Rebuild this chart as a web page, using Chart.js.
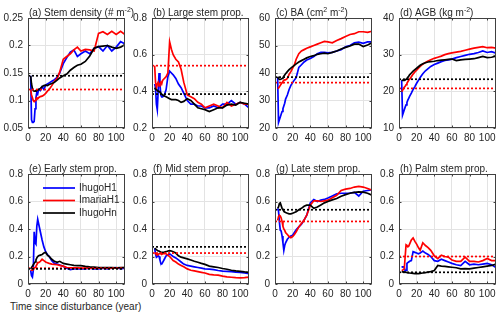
<!DOCTYPE html>
<html>
<head>
<meta charset="utf-8">
<script src="https://cdn.jsdelivr.net/npm/chart.js@4.4.0/dist/chart.umd.min.js"></script>
<style>
  body { margin: 0; background: #fff; width: 500px; height: 318px; position: relative; overflow: hidden;
         font-family: 'Liberation Sans', Arial, sans-serif; }
  canvas.panel { position: absolute; }
  #xtitle { position: absolute; left: 10px; top: 301px; font-size: 10px; line-height: 12px; color: #262626; white-space: nowrap; }
</style>
</head>
<body>
<div id="xtitle">Time since disturbance (year)</div>
<script>
// time axis (years since disturbance), shared by every series
const years = [3,4,5,6,7,8,9,10,11,12,14,16,18,20,22,24,27,30,33,36,40,44,48,52,56,60,65,70,75,80,85,90,95,100,105,110];
const xRange = [0, 110];
const xTicks = [0, 20, 40, 60, 80, 100];
const seriesNames = ['IhugoH1', 'ImariaH1', 'IhugoHn'];

// (a) stem density
const densityH1 = [0.145,0.065,0.06,0.06,0.062,0.085,0.105,0.115,0.112,0.12,0.118,0.125,0.12,0.128,0.13,0.132,0.135,0.138,0.142,0.15,0.167,0.178,0.188,0.192,0.18,0.185,0.19,0.185,0.195,0.198,0.19,0.2,0.19,0.197,0.207,0.203];
const densityMaria = [0.12,0.11,0.105,0.1,0.098,0.1,0.103,0.105,0.103,0.105,0.107,0.108,0.11,0.113,0.117,0.12,0.127,0.135,0.14,0.152,0.175,0.18,0.185,0.192,0.197,0.19,0.193,0.192,0.19,0.222,0.225,0.22,0.226,0.22,0.226,0.22];
const densityHn = [0.145,0.13,0.122,0.118,0.117,0.117,0.118,0.118,0.119,0.12,0.122,0.125,0.127,0.128,0.127,0.129,0.131,0.133,0.137,0.141,0.145,0.148,0.155,0.16,0.164,0.166,0.171,0.181,0.195,0.198,0.199,0.2,0.197,0.195,0.197,0.202];
// (b) large stem proportion
const largeH1 = [0.44,0.42,0.33,0.3,0.4,0.5,0.44,0.38,0.37,0.37,0.38,0.41,0.48,0.51,0.5,0.49,0.47,0.44,0.42,0.39,0.35,0.33,0.33,0.32,0.32,0.31,0.31,0.32,0.31,0.33,0.33,0.35,0.33,0.34,0.33,0.31];
const largeMaria = [0.54,0.45,0.42,0.44,0.45,0.43,0.44,0.45,0.44,0.46,0.47,0.48,0.5,0.67,0.63,0.6,0.575,0.56,0.52,0.45,0.38,0.37,0.36,0.34,0.33,0.31,0.32,0.33,0.32,0.31,0.34,0.32,0.33,0.34,0.33,0.33];
const largeHn = [0.42,0.41,0.41,0.405,0.4,0.4,0.395,0.39,0.385,0.38,0.375,0.37,0.365,0.36,0.355,0.355,0.355,0.35,0.34,0.345,0.36,0.35,0.33,0.31,0.305,0.3,0.29,0.3,0.31,0.31,0.325,0.33,0.325,0.34,0.335,0.33];
// (c) basal area
const baH1 = [38.5,22,23,24,25,26,27,28,29,30.5,32,34,35.5,36.5,37.5,38.3,42,43,44,44.7,45.3,46,47,47.5,47.5,47.3,47.5,48,48.5,49.5,50,51,51.2,50.8,51.3,51.3];
const baMaria = [34.4,34.5,35,35.5,36,36.5,37,37.3,37.5,37.5,38,39.5,40.5,41.8,43,45,47,48,48.5,49,49.5,50,50.5,51,51.5,51.3,51,51.8,52.5,53.3,54,54.3,55,55,54.8,55.2];
const baHn = [38.7,38,37.7,37.7,37.8,38,38.3,38.8,39.3,39.7,40.5,41.2,41.8,42.3,42.8,43.3,44,44.5,45,45.5,46,46.3,46.8,47,47.2,47,47.5,48,48.7,49.3,49.8,50.5,50.5,49.6,50.2,51];
// (d) above-ground biomass
const agbH1 = [23,13.5,14.2,15,15.7,16.3,17,17.6,18.1,18.6,19.5,20.5,21.3,22.2,23,23.8,24.8,25.6,26.2,26.8,27.3,27.7,28.1,28.4,28.6,28.8,29.2,29.5,29.8,30.1,30.3,30.6,31,30.6,30.8,30.4];
const agbMaria = [19.9,20.3,20.7,21.1,21.4,21.8,22.2,22.6,23,23.3,24,24.7,25.3,25.8,26.3,26.8,27.4,27.9,28.3,28.6,29,29.3,29.6,30,30.3,30.5,30.7,30.9,31.2,31.5,31.8,32,32.2,31.9,32,31.8];
const agbHn = [23.1,23,23,23,23.1,23.3,23.5,23.8,24.1,24.5,25,25.5,25.9,26.3,26.7,27.1,27.5,27.8,28,28.1,28.2,28.4,28.5,28.6,28.7,28.8,28.4,28.6,28.7,28.8,28.9,29.2,29.5,29.2,29.3,29.6];
// (e) early stem proportion
const earlyH1 = [0.1,0.06,0.05,0.1,0.38,0.3,0.29,0.42,0.47,0.44,0.38,0.32,0.27,0.235,0.215,0.2,0.17,0.15,0.145,0.138,0.128,0.115,0.105,0.11,0.112,0.11,0.11,0.115,0.11,0.11,0.115,0.11,0.115,0.12,0.11,0.115];
const earlyMaria = [0.105,0.1,0.1,0.105,0.115,0.12,0.13,0.14,0.155,0.155,0.165,0.18,0.17,0.16,0.155,0.15,0.145,0.143,0.14,0.135,0.13,0.12,0.118,0.118,0.117,0.116,0.116,0.115,0.115,0.115,0.118,0.115,0.117,0.115,0.118,0.12];
const earlyHn = [0.11,0.12,0.13,0.14,0.15,0.16,0.175,0.19,0.2,0.205,0.21,0.215,0.225,0.23,0.21,0.2,0.18,0.165,0.158,0.165,0.15,0.145,0.14,0.135,0.134,0.133,0.128,0.125,0.123,0.12,0.12,0.12,0.12,0.118,0.12,0.12];
// (f) mid stem proportion
const midH1 = [0.26,0.22,0.195,0.2,0.205,0.2,0.175,0.15,0.145,0.155,0.18,0.205,0.21,0.22,0.21,0.2,0.19,0.175,0.16,0.145,0.135,0.13,0.125,0.12,0.115,0.11,0.108,0.104,0.098,0.094,0.092,0.09,0.087,0.085,0.08,0.075];
const midMaria = [0.23,0.22,0.215,0.21,0.215,0.22,0.22,0.22,0.215,0.22,0.22,0.22,0.21,0.2,0.185,0.17,0.16,0.145,0.135,0.125,0.11,0.1,0.095,0.09,0.085,0.08,0.07,0.066,0.064,0.057,0.052,0.049,0.046,0.044,0.046,0.05];
const midHn = [0.26,0.255,0.25,0.245,0.24,0.24,0.235,0.232,0.23,0.23,0.232,0.235,0.24,0.243,0.24,0.235,0.225,0.205,0.195,0.19,0.183,0.175,0.165,0.158,0.15,0.143,0.13,0.125,0.12,0.113,0.107,0.1,0.095,0.092,0.088,0.085];
// (g) late stem proportion
const lateH1 = [0.55,0.53,0.45,0.39,0.385,0.35,0.3,0.245,0.28,0.3,0.325,0.34,0.35,0.355,0.375,0.395,0.415,0.435,0.465,0.5,0.59,0.615,0.6,0.61,0.615,0.625,0.64,0.655,0.66,0.66,0.662,0.667,0.64,0.675,0.68,0.685];
const lateMaria = [0.463,0.49,0.5,0.495,0.48,0.455,0.42,0.4,0.39,0.375,0.36,0.345,0.337,0.345,0.36,0.38,0.415,0.44,0.465,0.5,0.573,0.605,0.605,0.6,0.605,0.61,0.628,0.645,0.68,0.69,0.695,0.705,0.71,0.705,0.695,0.683];
const lateHn = [0.55,0.56,0.585,0.59,0.57,0.55,0.54,0.53,0.524,0.52,0.515,0.51,0.51,0.515,0.52,0.525,0.54,0.55,0.565,0.573,0.573,0.55,0.56,0.575,0.59,0.6,0.612,0.622,0.638,0.65,0.66,0.666,0.67,0.668,0.66,0.645];
// (h) palm stem proportion
const palmH1 = [0.12,0.125,0.125,0.12,0.095,0.1,0.15,0.155,0.16,0.165,0.17,0.235,0.23,0.225,0.22,0.225,0.24,0.225,0.215,0.2,0.17,0.165,0.18,0.17,0.16,0.15,0.14,0.134,0.165,0.14,0.145,0.14,0.145,0.15,0.14,0.12];
const palmMaria = [0.1,0.1,0.105,0.11,0.2,0.285,0.28,0.27,0.275,0.29,0.32,0.335,0.31,0.29,0.265,0.245,0.3,0.28,0.265,0.245,0.205,0.185,0.21,0.2,0.195,0.175,0.165,0.165,0.195,0.165,0.165,0.16,0.17,0.185,0.17,0.17];
const palmHn = [0.09,0.088,0.088,0.087,0.086,0.085,0.083,0.082,0.08,0.08,0.078,0.077,0.075,0.075,0.076,0.077,0.08,0.083,0.087,0.09,0.098,0.135,0.13,0.128,0.125,0.122,0.118,0.11,0.112,0.11,0.115,0.12,0.125,0.13,0.135,0.145];

// dotted reference levels, one per panel (a..h)
const refHugo = [0.145, 0.385, 38.5, 23.3, 0.11, 0.27, 0.54, 0.085];
const refMaria = [0.12, 0.54, 36.5, 20.8, 0.115, 0.225, 0.455, 0.2];

// y tick labels
const densityTicks = [0.05, 0.1, 0.15, 0.2, 0.25];
const largeTicks = [0.2, 0.4, 0.6, 0.8];
const baTicks = [20, 30, 40, 50, 60];
const agbTicks = [10, 20, 30, 40];
const propTicks = [0, 0.2, 0.4, 0.6, 0.8];

const panelTitles = ['(a) Stem density (# m^{-2})', '(b) Large stem prop.', '(c) BA (cm^{2} m^{-2})', '(d) AGB (kg m^{-2})',
  '(e) Early stem prop.', '(f) Mid stem prop.', '(g) Late stem prop.', '(h) Palm stem prop.'];

const panels = [
  { h1: densityH1, maria: densityMaria, hn: densityHn, ticks: densityTicks },
  { h1: largeH1, maria: largeMaria, hn: largeHn, ticks: largeTicks },
  { h1: baH1, maria: baMaria, hn: baHn, ticks: baTicks },
  { h1: agbH1, maria: agbMaria, hn: agbHn, ticks: agbTicks },
  { h1: earlyH1, maria: earlyMaria, hn: earlyHn, ticks: propTicks },
  { h1: midH1, maria: midMaria, hn: midHn, ticks: propTicks },
  { h1: lateH1, maria: lateMaria, hn: lateHn, ticks: propTicks },
  { h1: palmH1, maria: palmMaria, hn: palmHn, ticks: propTicks }
];

const FONT = "'Liberation Sans', Arial, sans-serif";
const TEXT = '#262626';
const plotLefts = [28, 152, 275, 399];
const plotTops = [18, 174];
const LEFT_PAD = 30, TOP_PAD = 18, PLOT_W = 97, PLOT_H = 110, RIGHT_PAD = 20, BOTTOM_PAD = 20;

Chart.defaults.font.family = FONT;
Chart.defaults.font.size = 10;
Chart.defaults.color = TEXT;

const toXY = (vals) => vals.map((v, i) => ({ x: years[i], y: v }));
const flat = (v) => xRange.map(x => ({ x, y: v }));

// axes box with small inward ticks, like a MATLAB axes
const boxPlugin = {
  id: 'box',
  afterDraw(chart) {
    const { ctx, chartArea: a, scales } = chart;
    const l = Math.round(a.left) + 0.5, r = Math.round(a.right) - 0.5;
    const t = Math.round(a.top) + 0.5, b = Math.round(a.bottom) - 0.5;
    ctx.save();
    ctx.strokeStyle = '#404040';
    ctx.lineWidth = 1;
    ctx.strokeRect(l, t, r - l, b - t);
    ctx.beginPath();
    scales.x.ticks.forEach(tk => {
      const px = Math.round(scales.x.getPixelForValue(tk.value)) + 0.5;
      ctx.moveTo(px, b); ctx.lineTo(px, b - 2);
      ctx.moveTo(px, t); ctx.lineTo(px, t + 2);
    });
    scales.y.ticks.forEach(tk => {
      const py = Math.round(scales.y.getPixelForValue(tk.value)) + 0.5;
      ctx.moveTo(l, py); ctx.lineTo(l + 2, py);
      ctx.moveTo(r, py); ctx.lineTo(r - 2, py);
    });
    ctx.stroke();
    ctx.restore();
  }
};

// panel title with ^{...} superscripts, left-aligned on the axes
const titlePlugin = {
  id: 'panelTitle',
  afterDraw(chart, args, opts) {
    const { ctx, chartArea: a } = chart;
    const parts = opts.text.split(/(\^\{[^}]*\})/).filter(s => s.length);
    let x = a.left + 1;
    const base = a.top - 2.5;
    ctx.save();
    ctx.fillStyle = TEXT;
    ctx.textBaseline = 'alphabetic';
    ctx.textAlign = 'left';
    parts.forEach(p => {
      if (p.startsWith('^{')) {
        const s = p.slice(2, -1);
        ctx.font = '7px ' + FONT;
        ctx.fillText(s, x, base - 4);
        x += ctx.measureText(s).width;
      } else {
        ctx.font = '10px ' + FONT;
        ctx.fillText(p, x, base);
        x += ctx.measureText(p).width;
      }
    });
    ctx.restore();
  }
};

// legend inside panel (e)
const legendPlugin = {
  id: 'innerLegend',
  afterDraw(chart, args, opts) {
    if (!opts.show) return;
    const { ctx, chartArea: a } = chart;
    const rows = [['#0000ff', seriesNames[0]], ['#ff0000', seriesNames[1]], ['#000000', seriesNames[2]]];
    ctx.save();
    ctx.font = '10px ' + FONT;
    ctx.textBaseline = 'middle';
    rows.forEach(([c, name], i) => {
      const y = a.top + 14 + i * 12.5;
      ctx.strokeStyle = c;
      ctx.lineWidth = 1.7;
      ctx.beginPath(); ctx.moveTo(a.left + 15, y); ctx.lineTo(a.left + 47, y); ctx.stroke();
      ctx.fillStyle = TEXT;
      ctx.fillText(name, a.left + 51, y);
    });
    ctx.restore();
  }
};

panels.forEach((p, i) => {
  const col = i % 4, row = Math.floor(i / 4);
  const cv = document.createElement('canvas');
  cv.className = 'panel';
  const w = LEFT_PAD + PLOT_W + RIGHT_PAD, h = TOP_PAD + PLOT_H + BOTTOM_PAD;
  cv.width = w; cv.height = h;
  cv.style.left = (plotLefts[col] - LEFT_PAD) + 'px';
  cv.style.top = (plotTops[row] - TOP_PAD) + 'px';
  cv.style.width = w + 'px'; cv.style.height = h + 'px';
  document.body.appendChild(cv);

  const line = (data, color, dash) => ({
    data, borderColor: color, borderWidth: 1.7, pointRadius: 0, tension: 0,
    borderDash: dash || [], fill: false
  });

  new Chart(cv.getContext('2d'), {
    type: 'line',
    data: {
      datasets: [
        line(flat(refHugo[i]), '#000000', [2, 2]),
        line(flat(refMaria[i]), '#ff0000', [2, 2]),
        { ...line(toXY(p.hn), '#000000'), label: seriesNames[2] },
        { ...line(toXY(p.maria), '#ff0000'), label: seriesNames[1] },
        { ...line(toXY(p.h1), '#0000ff'), label: seriesNames[0] }
      ]
    },
    options: {
      responsive: false,
      animation: false,
      devicePixelRatio: 1,
      layout: { padding: { left: 0, right: RIGHT_PAD, top: TOP_PAD, bottom: 0 } },
      plugins: {
        legend: { display: false },
        tooltip: { enabled: false },
        panelTitle: { text: panelTitles[i] },
        innerLegend: { show: i === 4 }
      },
      scales: {
        x: {
          type: 'linear', min: xRange[0], max: xRange[1],
          afterBuildTicks: s => { s.ticks = xTicks.map(v => ({ value: v })); },
          afterFit: s => { s.height = BOTTOM_PAD; },
          grid: { color: '#e3e3e3', drawTicks: false },
          border: { display: false },
          ticks: { padding: 4, maxRotation: 0, autoSkip: false, color: TEXT, callback: v => String(v) }
        },
        y: {
          type: 'linear', min: p.ticks[0], max: p.ticks[p.ticks.length - 1],
          afterBuildTicks: s => { s.ticks = p.ticks.map(v => ({ value: v })); },
          afterFit: s => { s.width = LEFT_PAD; },
          grid: { color: '#e3e3e3', drawTicks: false },
          border: { display: false },
          ticks: { padding: 5, autoSkip: false, color: TEXT, callback: v => String(v) }
        }
      }
    },
    plugins: [boxPlugin, titlePlugin, legendPlugin]
  });
});
</script>
</body>
</html>
